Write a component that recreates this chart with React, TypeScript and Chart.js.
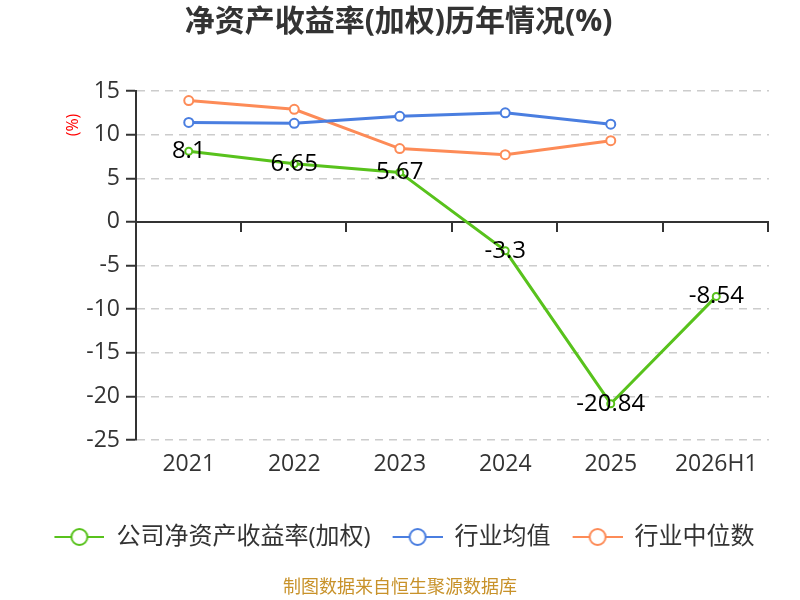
import { useEffect, useRef } from "react";
import { Chart, registerables } from "chart.js";

Chart.register(...registerables);

const categories = ["2021", "2022", "2023", "2024", "2025", "2026H1"];
const companyRoe = [8.1, 6.65, 5.67, -3.3, -20.84, -8.54];
const industryAvg = [11.4, 11.3, 12.1, 12.5, 11.2, null];
const industryMedian = [13.9, 12.9, 8.4, 7.7, 9.3, null];
const seriesNames = ["公司净资产收益率(加权)", "行业均值", "行业中位数"];
const seriesColors = ["#58c21c", "#4a7ee0", "#fd8b57"];

const FONT = '"Open Sans", "Noto Sans CJK SC", sans-serif';

// legend icon: short line with a hollow circle, with a blank margin on the left
const makeIcon = (color: string) => {
  const c = document.createElement("canvas");
  c.width = 62;
  c.height = 20;
  const g = c.getContext("2d")!;
  g.strokeStyle = color;
  g.lineWidth = 2;
  g.beginPath();
  g.moveTo(12, 10);
  g.lineTo(62, 10);
  g.stroke();
  g.beginPath();
  g.arc(37, 10, 8, 0, Math.PI * 2);
  g.fillStyle = "#fff";
  g.fill();
  g.stroke();
  return c;
};

const extrasPlugin = {
  id: "extras",
  beforeDatasetsDraw(chart: any) {
    const { ctx, chartArea, scales } = chart;
    const y0 = scales.y.getPixelForValue(0);
    ctx.save();
    ctx.strokeStyle = "#333";
    ctx.lineWidth = 2;
    ctx.beginPath();
    ctx.moveTo(chartArea.left, y0);
    ctx.lineTo(chartArea.right, y0);
    const step = (chartArea.right - chartArea.left) / categories.length;
    for (let i = 1; i <= categories.length; i++) {
      const x = Math.round(chartArea.left + i * step) - 1;
      ctx.moveTo(x, y0);
      ctx.lineTo(x, y0 + 10);
    }
    ctx.stroke();
    ctx.restore();
  },
  afterDatasetsDraw(chart: any) {
    const { ctx } = chart;
    const meta = chart.getDatasetMeta(0);
    ctx.save();
    ctx.font = `24px ${FONT}`;
    ctx.fillStyle = "#000";
    ctx.textAlign = "center";
    ctx.textBaseline = "middle";
    meta.data.forEach((pt: any, i: number) => {
      ctx.fillText(String(companyRoe[i]), pt.x, pt.y);
    });
    ctx.restore();
  },
  afterDraw(chart: any) {
    const { ctx } = chart;
    ctx.save();
    ctx.translate(73, 125);
    ctx.rotate(-Math.PI / 2);
    ctx.font = `16px ${FONT}`;
    ctx.fillStyle = "#ff0000";
    ctx.textAlign = "center";
    ctx.textBaseline = "middle";
    ctx.fillText("(%)", 0, 0);
    ctx.restore();
    ctx.save();
    ctx.font = `18px ${FONT}`;
    ctx.fillStyle = "#c8922a";
    ctx.textAlign = "center";
    ctx.textBaseline = "middle";
    ctx.fillText("制图数据来自恒生聚源数据库", 400, 588);
    ctx.restore();
  },
};

export default function App() {
  const canvasRef = useRef<HTMLCanvasElement | null>(null);

  useEffect(() => {
    document.body.style.margin = "0";
    if (!canvasRef.current) return;
    const icons = seriesColors.map(makeIcon);
    const mk = (i: number, data: (number | null)[], r: number) => ({
      label: seriesNames[i],
      data,
      borderColor: seriesColors[i],
      backgroundColor: "#fff",
      pointBackgroundColor: "#fff",
      pointBorderColor: seriesColors[i],
      pointBorderWidth: 2,
      pointRadius: r,
      borderWidth: 3,
      tension: 0,
      spanGaps: false,
    });

    const chart = new Chart(canvasRef.current, {
      type: "line",
      data: {
        labels: categories,
        datasets: [mk(0, companyRoe, 3.5), mk(1, industryAvg, 4.5), mk(2, industryMedian, 4.5)],
      },
      options: {
        responsive: true,
        maintainAspectRatio: false,
        animation: false,
        layout: { padding: { left: 28, right: 31, top: 0, bottom: 41 } },
        scales: {
          x: {
            offset: true,
            grid: { display: false, drawTicks: false },
            border: { display: false },
            ticks: { color: "#333", font: { size: 23, family: FONT }, padding: 11 },
            afterFit: (s: any) => {
              s.height = 75;
            },
          },
          y: {
            min: -25,
            max: 15,
            grid: {
              color: (c: any) => (c.tick && c.tick.value === 0 ? "rgba(0,0,0,0)" : "#cccccc"),
              lineWidth: 1.5,
              tickColor: "#333",
              tickLength: 10,
              tickWidth: 2,
            },
            border: { display: true, color: "#333", width: 2, dash: [8, 6] },
            ticks: { stepSize: 5, color: "#333", font: { size: 23, family: FONT }, padding: 6 },
            afterFit: (s: any) => {
              s.width = 108;
            },
          },
        },
        plugins: {
          title: {
            display: true,
            text: "净资产收益率(加权)历年情况(%)",
            color: "#333",
            font: { size: 30, weight: "bold", family: FONT },
            padding: { top: 4, bottom: 51 },
          },
          legend: {
            position: "bottom",
            labels: {
              color: "#333",
              font: { size: 24, family: FONT },
              usePointStyle: true,
              pointStyleWidth: 62,
              boxHeight: 20,
              padding: 10,
              generateLabels: (ch: any) => {
                const items = Chart.defaults.plugins.legend.labels.generateLabels(ch);
                items.forEach((it: any, i: number) => {
                  it.pointStyle = icons[i];
                });
                return items;
              },
            },
          },
          tooltip: { enabled: false },
        },
      },
      plugins: [extrasPlugin],
    });

    return () => {
      chart.destroy();
    };
  }, []);

  return (
    <div style={{ width: 800, height: 600, position: "relative", background: "#fff" }}>
      <canvas ref={canvasRef} />
    </div>
  );
}
